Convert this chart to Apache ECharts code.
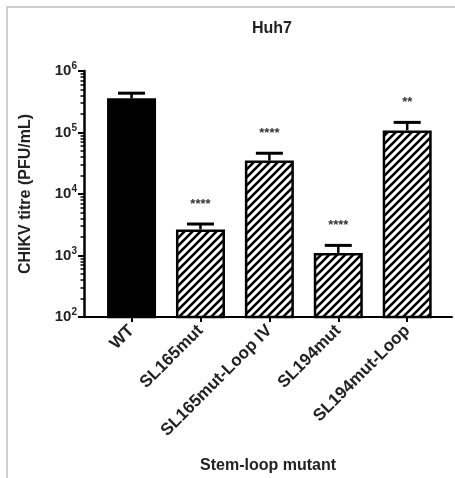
<!DOCTYPE html>
<html><head><meta charset="utf-8">
<script src="https://cdn.jsdelivr.net/npm/echarts@6/dist/echarts.min.js"></script>
<style>
html,body{margin:0;padding:0;background:#fff;}
#wrap{position:relative;width:455px;height:478px;}
#c{width:455px;height:478px;}
#frame{position:absolute;left:6px;top:6px;right:0;bottom:0;border-left:2px solid #cfcfcf;border-top:2px solid #cfcfcf;pointer-events:none;}
</style></head>
<body><div id="wrap"><div id="c"></div><div id="frame"></div></div>
<script>
const categories = ['WT','SL165mut','SL165mut-Loop IV','SL194mut','SL194mut-Loop'];
const means = [360000, 2650, 35000, 1100, 108000];
const upperErr = [436000, 3250, 46000, 1460, 146000];
const stars = ['', '****', '****', '****', '**'];
const majorTicks = [100, 1000, 10000, 100000, 1000000];
const minorTicks = [];
for (let d = 100; d < 1000000; d *= 10) for (let m = 2; m <= 9; m++) minorTicks.push(d * m);

function hatch(){
  const s = 8, cv = document.createElement('canvas');
  cv.width = s; cv.height = s;
  const g = cv.getContext('2d');
  g.fillStyle = '#fff'; g.fillRect(0,0,s,s);
  g.strokeStyle = '#000'; g.lineWidth = 2.6; g.lineCap = 'square';
  g.beginPath();
  g.moveTo(-2, 2); g.lineTo(2, -2);
  g.moveTo(0, s); g.lineTo(s, 0);
  g.moveTo(s-2, s+2); g.lineTo(s+2, s-2);
  g.stroke();
  return cv;
}
const pattern = {image: hatch(), repeat: 'repeat'};
const font = '"Liberation Sans", Arial, sans-serif';

const chart = echarts.init(document.getElementById('c'));
const barData = means.map((v, i) => ({
  value: [i, v],
  itemStyle: i === 0 ? {color: '#000'} : {color: pattern}
}));
const errData = means.map((v, i) => [i, v, upperErr[i], stars[i]]);

chart.setOption({
  animation: false,
  title: {text: 'Huh7', left: 267, top: 16, textAlign: 'center',
    textStyle: {fontFamily: font, fontWeight: 'bold', fontSize: 16, color: '#222'}},
  grid: {left: 84, right: 3, top: 71, bottom: 161, containLabel: false, outerBoundsMode: 'none'},
  xAxis: {
    type: 'value', min: -0.69, max: 4.65,
    name: 'Stem-loop mutant', nameLocation: 'middle', nameGap: 141,
    nameTextStyle: {fontFamily: font, fontWeight: 'bold', fontSize: 16, color: '#222'},
    axisLine: {show: true, onZero: false, lineStyle: {color: '#000', width: 2}},
    axisTick: {show: true, customValues: [0,1,2,3,4], length: 5, lineStyle: {color: '#000', width: 2}},
    axisLabel: {customValues: [0,1,2,3,4], rotate: 45, margin: 11,
      formatter: v => categories[Math.round(v)] || '',
      fontFamily: font, fontWeight: 'bold', fontSize: 17, color: '#222'},
    splitLine: {show: false}
  },
  yAxis: [{
    type: 'log', min: 100, max: 1000000, logBase: 10, position: 'left',
    name: 'CHIKV titre (PFU/mL)', nameLocation: 'middle', nameGap: 50, nameRotate: 90,
    nameTextStyle: {fontFamily: font, fontWeight: 'bold', fontSize: 16, color: '#222'},
    axisLine: {show: true, onZero: false, lineStyle: {color: '#000', width: 2.5}},
    axisTick: {show: true, customValues: majorTicks, length: 6, lineStyle: {color: '#000', width: 2}},
    axisLabel: {customValues: majorTicks, margin: 7,
      formatter: v => '{b|10}{s|' + Math.round(Math.log10(v)) + '}',
      rich: {
        b: {fontFamily: font, fontWeight: 'bold', fontSize: 15, color: '#222'},
        s: {fontFamily: font, fontWeight: 'bold', fontSize: 10, color: '#222', padding: [0,0,9,0]}
      }},
    splitLine: {show: false}
  }, {
    type: 'log', min: 100, max: 1000000, logBase: 10, position: 'left',
    axisLine: {show: false, onZero: false},
    axisTick: {show: true, customValues: minorTicks, length: 3.5, lineStyle: {color: '#000', width: 1.5}},
    axisLabel: {show: false},
    splitLine: {show: false}
  }],
  series: [{
    type: 'custom',
    yAxisIndex: 0,
    data: errData,
    z: 1,
    renderItem: (params, api) => {
      const top = api.coord([api.value(0), api.value(1)]);
      const cap = api.coord([api.value(0), api.value(2)]);
      const hw = 13.5;
      return {type: 'group', children: [
        {type: 'line', shape: {x1: top[0], y1: top[1], x2: cap[0], y2: cap[1]}, style: {stroke: '#000', lineWidth: 2.5}},
        {type: 'line', shape: {x1: cap[0]-hw, y1: cap[1], x2: cap[0]+hw, y2: cap[1]}, style: {stroke: '#000', lineWidth: 3}},
        {type: 'text', x: cap[0], y: cap[1] - 20, style: {text: api.value(3), textAlign: 'center', textVerticalAlign: 'middle',
          fontFamily: font, fontWeight: 'bold', fontSize: 13, fill: '#333'}}
      ]};
    }
  }, {
    type: 'bar',
    yAxisIndex: 0,
    barWidth: 49,
    z: 2,
    clip: true,
    data: barData,
    itemStyle: {borderColor: '#000', borderWidth: 2.5}
  }]
});
</script></body></html>
